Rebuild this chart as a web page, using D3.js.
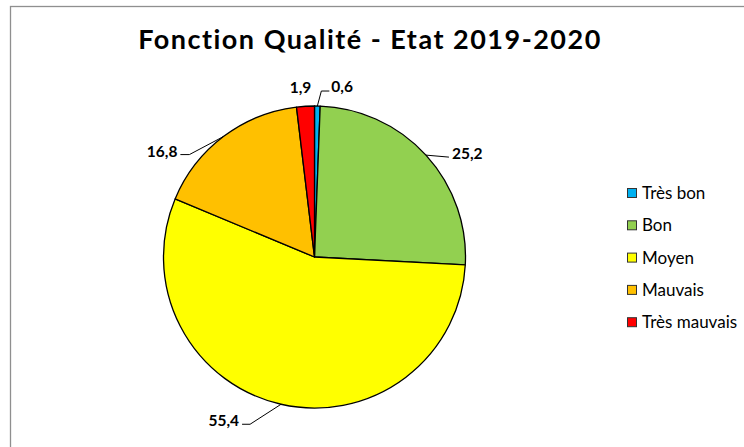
<!DOCTYPE html>
<html>
<head>
<meta charset="utf-8">
<script src="https://cdn.jsdelivr.net/npm/d3@7"></script>
<style>
  html, body { margin: 0; padding: 0; background: #fff; }
  svg { display: block; font-family: Lato, "Open Sans", sans-serif; }
</style>
</head>
<body>
<svg id="chart" width="744" height="447"></svg>
<script>
// Data
const categories = ["Très bon", "Bon", "Moyen", "Mauvais", "Très mauvais"];
const values = [0.6, 25.2, 55.4, 16.8, 1.9];
const valueLabels = ["0,6", "25,2", "55,4", "16,8", "1,9"];
const colors = ["#00B0F0", "#92D050", "#FFFF00", "#FFC000", "#FF0000"];
const title = "Fonction Qualité - Etat 2019-2020";

// Label placement relative to each slice's outer edge point
const labelLayout = [
  { elbow: [4, -15],  end: [12, -15],  anchor: "start",  text: [14, -19], line: true },
  { elbow: [23, 2],   end: [23, 2],    anchor: "start",  text: [26, -2],  line: true },
  { elbow: [-31, 20], end: [-39, 20],  anchor: "end",    text: [-42, 16], line: true },
  { elbow: [-34, 18], end: [-43, 18],  anchor: "end",    text: [-46, 15], line: true },
  { elbow: [0, 0],    end: [0, 0],     anchor: "middle", text: [-5, -19], line: false }
];

const W = 744, H = 447;
const svg = d3.select("#chart");

// Chart area frame
svg.append("rect")
  .attr("x", 10.5).attr("y", 6.5)
  .attr("width", W).attr("height", H)
  .attr("fill", "#fff")
  .attr("stroke", "#8f8f8f").attr("stroke-width", 1.3);

// Title
svg.append("text")
  .attr("x", 370).attr("y", 49)
  .attr("text-anchor", "middle")
  .attr("font-weight", "bold")
  .attr("font-size", 27)
  .attr("letter-spacing", 1.5)
  .attr("fill", "#000")
  .text(title);

// Pie
const cx = 314.5, cy = 257, r = 151;
const pie = d3.pie().value(d => d).sort(null);
const arcs = pie(values);
const arc = d3.arc().innerRadius(0).outerRadius(r);

const g = svg.append("g").attr("transform", `translate(${cx},${cy})`);
g.selectAll("path.slice")
  .data(arcs)
  .join("path")
  .attr("class", "slice")
  .attr("d", arc)
  .attr("fill", (d, i) => colors[i])
  .attr("stroke", "#000")
  .attr("stroke-width", 1.3)
  .attr("stroke-linejoin", "round");

// Data labels with leader lines
arcs.forEach((a, i) => {
  const mid = (a.startAngle + a.endAngle) / 2;
  const ex = r * Math.sin(mid), ey = -r * Math.cos(mid);
  const L = labelLayout[i];
  if (L.line) {
    g.append("path")
      .attr("d", d3.line()([[ex, ey], [ex + L.elbow[0], ey + L.elbow[1]], [ex + L.end[0], ey + L.end[1]]]))
      .attr("fill", "none")
      .attr("stroke", "#000")
      .attr("stroke-width", 1);
  }
  g.append("text")
    .attr("x", ex + L.text[0])
    .attr("y", ey + L.text[1])
    .attr("dy", "0.35em")
    .attr("text-anchor", L.anchor)
    .attr("font-weight", "bold")
    .attr("font-size", 15.5)
    .attr("fill", "#000")
    .text(valueLabels[i]);
});

// Legend
const legend = svg.append("g").attr("transform", "translate(627,193)");
const rowStep = 32.3;
categories.forEach((c, i) => {
  const row = legend.append("g").attr("transform", `translate(0,${i * rowStep})`);
  row.append("rect")
    .attr("x", 0.5).attr("y", -4.5)
    .attr("width", 9).attr("height", 9)
    .attr("fill", colors[i])
    .attr("stroke", "#333").attr("stroke-width", 1);
  row.append("text")
    .attr("x", 15).attr("y", 0)
    .attr("dy", "0.35em")
    .attr("font-size", 17)
    .attr("fill", "#000")
    .text(c);
});
</script>
</body>
</html>
